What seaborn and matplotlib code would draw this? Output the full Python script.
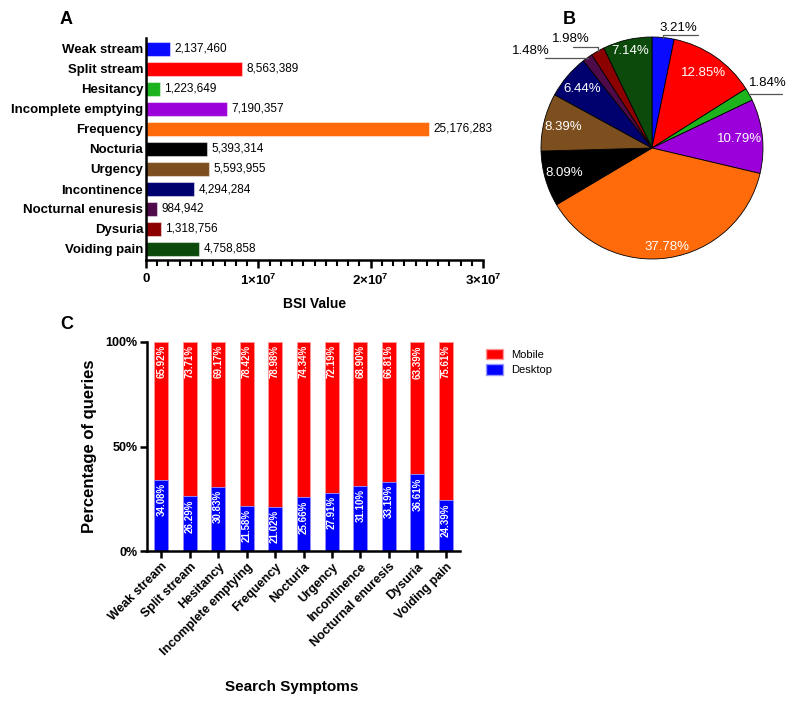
import numpy as np
import pandas as pd
import matplotlib
matplotlib.use("Agg")
import matplotlib.pyplot as plt
from matplotlib.patches import Patch
from matplotlib.ticker import MultipleLocator
import seaborn as sns

sns.set_theme(style="white")
plt.rcParams['font.family'] = ['Liberation Sans', 'DejaVu Sans']
plt.rcParams['mathtext.fontset'] = 'custom'
plt.rcParams['mathtext.rm'] = 'Liberation Sans'
plt.rcParams['mathtext.bf'] = 'Liberation Sans:bold'
for k in ['text.color', 'axes.labelcolor', 'xtick.color', 'ytick.color']:
    plt.rcParams[k] = 'black'

# ---------------- data ----------------
symptoms = ["Weak stream", "Split stream", "Hesitancy", "Incomplete emptying",
            "Frequency", "Nocturia", "Urgency", "Incontinence",
            "Nocturnal enuresis", "Dysuria", "Voiding pain"]
bsi_values = [2137460, 8563389, 1223649, 7190357, 25176283, 5393314,
              5593955, 4294284, 984942, 1318756, 4758858]
pie_pct_labels = ["3.21%", "12.85%", "1.84%", "10.79%", "37.78%", "8.09%",
                  "8.39%", "6.44%", "1.48%", "1.98%", "7.14%"]
mobile_pct = [65.92, 73.71, 69.17, 78.42, 78.98, 74.34, 72.19, 68.90, 66.81, 63.39, 75.61]
desktop_pct = [34.08, 26.29, 30.83, 21.58, 21.02, 25.66, 27.91, 31.10, 33.19, 36.61, 24.39]
x_tick_vals = [0, 1e7, 2e7, 3e7]
x_tick_labels = ["0", r"$\mathbf{1{\times}10^{7}}$", r"$\mathbf{2{\times}10^{7}}$", r"$\mathbf{3{\times}10^{7}}$"]
y_tick_vals_c = [0, 50, 100]
y_tick_labels_c = ["0%", "50%", "100%"]

colors = ["#0A0AFF", "#FF0000", "#1DB31D", "#9B00DB", "#FF6A0A", "#000000",
          "#7E4F1E", "#00006E", "#4F0A4A", "#8C0000", "#0B4A0B"]

fig = plt.figure(figsize=(8, 7.09), dpi=100)
W, H = 800, 709

def box(l, t, r, b):
    return [l / W, 1 - b / H, (r - l) / W, (b - t) / H]

# ---------------- Panel A ----------------
axA = fig.add_axes(box(146, 38, 483, 260))
dfA = pd.DataFrame({"symptom": symptoms, "bsi": bsi_values})
sns.barplot(data=dfA, x="bsi", y="symptom", hue="symptom", palette=colors,
            legend=False, orient="h", width=0.68, ax=axA, saturation=1,
            edgecolor=(1, 1, 1, 0.45), linewidth=0.8)
axA.set_xlim(0, 3e7)
axA.set_ylim(10.55, -0.55)
axA.set_xticks(x_tick_vals)
axA.set_xticklabels(x_tick_labels, fontsize=9.5, fontweight="bold")
axA.xaxis.set_minor_locator(MultipleLocator(1e6))
axA.tick_params(axis="x", which="major", length=6, width=1.8, direction="out", pad=3, bottom=True)
axA.tick_params(axis="x", which="minor", length=4, width=1.5, direction="out", bottom=True)
axA.tick_params(axis="y", length=0, pad=2)
for lab in axA.get_yticklabels():
    lab.set_fontweight("bold")
    lab.set_fontsize(9.5)
for s in ["top", "right"]:
    axA.spines[s].set_visible(False)
for s in ["left", "bottom"]:
    axA.spines[s].set_linewidth(1.8)
    axA.spines[s].set_color("black")
for i, v in enumerate(bsi_values):
    axA.text(v + 4e5, i, f"{v:,}", va="center", ha="left", fontsize=8.5)
axA.set_ylabel("")
axA.set_xlabel("BSI Value", fontsize=10, fontweight="bold", labelpad=7)

# ---------------- Panel B ----------------
axB = fig.add_axes(box(541, 37, 763, 259))
wedges, _ = axB.pie(bsi_values, colors=colors, startangle=90, counterclock=False,
                    radius=1.0, wedgeprops=dict(edgecolor="black", linewidth=0.6))
axB.set_xlim(-1, 1)
axB.set_ylim(-1, 1)
axB.set_aspect("equal")
axB.axis("off")

fr = np.array(bsi_values) / np.sum(bsi_values)
cum = np.concatenate([[0], np.cumsum(fr)])
mid_ang = np.deg2rad(90 - 360 * (cum[:-1] + fr / 2))

inside_r = {1: 0.82, 3: 0.79, 4: 0.9, 5: 0.82, 6: 0.82, 7: 0.82, 10: 0.9}
for i, r in inside_r.items():
    axB.text(r * np.cos(mid_ang[i]), r * np.sin(mid_ang[i]), pie_pct_labels[i],
             color="white", ha="center", va="center", fontsize=9.5)

# outside labels with leader lines: (index, line points after edge, text pos, ha)
outside = [
    (0, [(None, 1.02), (0.41, 1.02)], (0.24, 1.03), "center"),
    (2, [(1.17, None)], (1.04, 0.53), "center"),
    (8, [(-0.96, None)], (-0.92, 0.82), "right"),
    (9, [(None, 0.91), (-0.71, 0.91)], (-0.73, 0.93), "center"),
]
for i, pts, tpos, ha in outside:
    ex, ey = np.cos(mid_ang[i]), np.sin(mid_ang[i])
    xs, ys = [ex], [ey]
    for px, py in pts:
        xs.append(xs[-1] if px is None else px)
        ys.append(ys[-1] if py is None else py)
    axB.plot(xs, ys, color="#555555", lw=0.9, clip_on=False)
    axB.text(tpos[0], tpos[1], pie_pct_labels[i], ha=ha, va="bottom",
             fontsize=9.5, color="black", clip_on=False)

# ---------------- Panel C ----------------
axC = fig.add_axes(box(147, 342, 460, 551))
dfC = pd.DataFrame({"symptom": symptoms, "mobile": mobile_pct, "desktop": desktop_pct})
dfC["total"] = dfC["mobile"] + dfC["desktop"]
sns.barplot(data=dfC, x="symptom", y="total", color="#FF0000", width=0.49, ax=axC,
            edgecolor=(1, 0.6, 0.6, 1), linewidth=0.6, saturation=1)
sns.barplot(data=dfC, x="symptom", y="desktop", color="#0000FF", width=0.49, ax=axC,
            edgecolor=(0.6, 0.6, 1, 1), linewidth=0.6, saturation=1)
axC.set_ylim(0, 100)
axC.set_xlim(-0.5, 10.5)
axC.set_yticks(y_tick_vals_c)
axC.set_yticklabels(y_tick_labels_c, fontsize=9, fontweight="bold")
axC.tick_params(axis="y", length=5, width=1.8, direction="out", left=True, pad=2)
axC.tick_params(axis="x", length=5, width=1.8, direction="out", bottom=True, pad=2)
axC.set_xticks(range(len(symptoms)))
axC.set_xticklabels(symptoms, rotation=45, ha="right", rotation_mode="anchor",
                    fontsize=9, fontweight="bold")
for s in ["top", "right"]:
    axC.spines[s].set_visible(False)
for s in ["left", "bottom"]:
    axC.spines[s].set_linewidth(1.8)
    axC.spines[s].set_color("black")
for i in range(len(symptoms)):
    axC.text(i, 98.5, f"{mobile_pct[i]:.2f}%", rotation=90, ha="center", va="top",
             color="white", fontsize=7, fontweight="bold")
    axC.text(i, desktop_pct[i] - 1.5, f"{desktop_pct[i]:.2f}%", rotation=90, ha="center",
             va="top", color="white", fontsize=7, fontweight="bold")
axC.set_ylabel("Percentage of queries", fontsize=12, fontweight="bold", labelpad=6)
axC.set_xlabel("Search Symptoms", fontsize=11, fontweight="bold")
axC.xaxis.set_label_coords(0.463, -0.615)
handles = [Patch(facecolor="#FF0000", edgecolor=(1, 0.6, 0.6)),
           Patch(facecolor="#0000FF", edgecolor=(0.6, 0.6, 1))]
axC.legend(handles, ["Mobile", "Desktop"], loc="upper left", bbox_to_anchor=(1.07, 0.99),
           frameon=False, fontsize=8, handlelength=1.5, handleheight=1.1,
           labelspacing=0.4, borderaxespad=0, handletextpad=0.7)

# panel letters
fig.text(60 / W, 1 - 20 / H, "A", fontsize=13, fontweight="bold", va="center", ha="left")
fig.text(563 / W, 1 - 20 / H, "B", fontsize=13, fontweight="bold", va="center", ha="left")
fig.text(60 / W, 1 - 325 / H, "C", fontsize=13, fontweight="bold", va="center", ha="left")

fig.savefig("out.png", dpi=100)
